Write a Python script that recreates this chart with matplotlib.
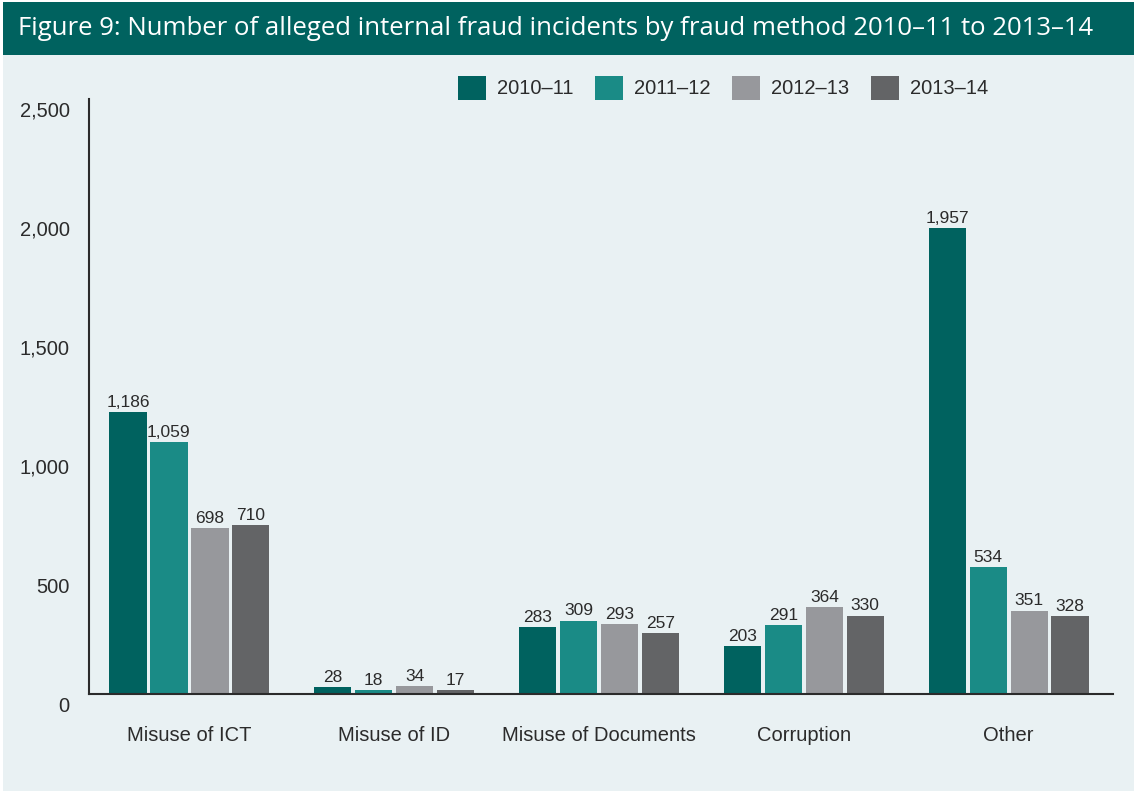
import numpy as np
import matplotlib
matplotlib.use("Agg")
import matplotlib.pyplot as plt
import matplotlib.transforms as mtransforms
from matplotlib.patches import Rectangle

categories = ["Misuse of ICT", "Misuse of ID", "Misuse of Documents", "Corruption", "Other"]
years = ["2010\u201311", "2011\u201312", "2012\u201313", "2013\u201314"]
v_2010 = [1186, 28, 283, 203, 1957]
v_2011 = [1059, 18, 309, 291, 534]
v_2012 = [698, 34, 293, 364, 351]
v_2013 = [710, 17, 257, 330, 328]
series = [v_2010, v_2011, v_2012, v_2013]
colors = ["#00625f", "#1a8b86", "#97989c", "#636466"]

bg = "#e9f1f3"
dark = "#2b2b2b"
font = ["Liberation Sans Narrow", "Liberation Sans", "DejaVu Sans"]

fig = plt.figure(figsize=(11.37, 7.96), dpi=100)
fig.patch.set_facecolor("white")
# light panel and title bar
fig.add_artist(Rectangle((0.003, 0.006), 0.994, 0.925, transform=fig.transFigure,
                         facecolor=bg, edgecolor="none", zorder=0))
fig.add_artist(Rectangle((0.003, 0.931), 0.994, 0.066, transform=fig.transFigure,
                         facecolor="#00625f", edgecolor="none", zorder=0))
fig.text(0.016, 0.964, "Figure 9: Number of alleged internal fraud incidents by fraud method 2010\u201311 to 2013\u201314",
         color="white", fontsize=18.5, family=["Open Sans", "DejaVu Sans"], va="center", ha="left")

ax = fig.add_axes([0.0783, 0.128, 0.9007, 0.7475])
ax.set_facecolor("none")

x = np.arange(len(categories))
pitch = 0.2
width = 0.182
for i, (vals, col) in enumerate(zip(series, colors)):
    pos = x + (i - 1.5) * pitch
    bars = ax.bar(pos, vals, width=width, color=col, label=years[i], zorder=2)
    for b, v in zip(bars, vals):
        ax.annotate(f"{v:,}", (b.get_x() + b.get_width() / 2, v), xytext=(0, 1.5),
                    textcoords="offset points", ha="center", va="bottom",
                    fontsize=12.5, color=dark, family=font)

ax.set_xlim(-0.49, 4.51)
ax.set_ylim(0, 2500)
ax.set_yticks(range(0, 2501, 500))
ax.set_yticklabels([f"{t:,}" for t in range(0, 2501, 500)], family=font, fontsize=14.5, color=dark)
ax.set_xticks(x)
ax.set_xticklabels(categories, family=font, fontsize=14.5, color=dark)
ax.tick_params(axis="both", length=0)
ax.tick_params(axis="y", pad=14)
ax.tick_params(axis="x", pad=23)
offset = mtransforms.ScaledTranslation(0, -10 / 100, fig.dpi_scale_trans)
for lab in ax.get_yticklabels():
    lab.set_transform(lab.get_transform() + offset)

for s in ["top", "right"]:
    ax.spines[s].set_visible(False)
for s in ["left", "bottom"]:
    ax.spines[s].set_color(dark)
    ax.spines[s].set_linewidth(1.5)

leg = fig.legend(loc="center", bbox_to_anchor=(0.636, 0.890), ncol=4, frameon=False,
                 prop={"family": font, "size": 14.5}, handlelength=1.4, handleheight=1.45,
                 handletextpad=0.55, columnspacing=1.05)
for t in leg.get_texts():
    t.set_color(dark)

fig.savefig("out.png", dpi=100, facecolor=fig.get_facecolor())
